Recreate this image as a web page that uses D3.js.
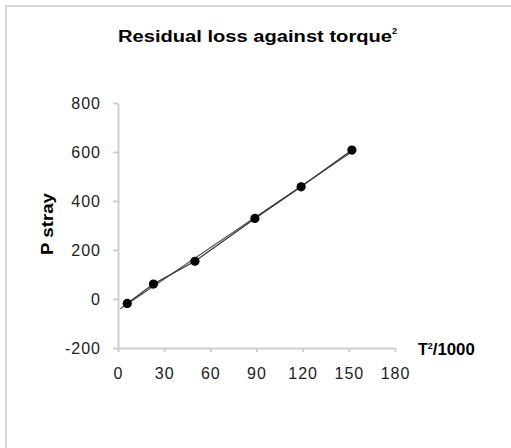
<!DOCTYPE html>
<html>
<head>
<meta charset="utf-8">
<script src="https://cdn.jsdelivr.net/npm/d3@7"></script>
<style>
  body { margin: 0; background: #fff; }
  text { font-family: "Liberation Sans", Arial, sans-serif; fill: #000; }
  .axis path, .axis line { stroke: #cfcfcf; stroke-width: 2; }
  .axis text { font-size: 16px; fill: #222; letter-spacing: 1px; }
</style>
</head>
<body>
<svg id="chart" width="511" height="448"></svg>
<script>
// data
const torqueSq = [6, 23, 50, 89, 119, 152]
const pStray = [-18, 61, 154, 329, 458, 608]
const xTicks = [0, 30, 60, 90, 120, 150, 180]
const yTicks = [-200, 0, 200, 400, 600, 800]

const svg = d3.select('#chart')

// outer frame (only top/left edges show)
svg.append('rect')
  .attr('x', 6).attr('y', 6)
  .attr('width', 600).attr('height', 600)
  .attr('fill', 'none')
  .attr('stroke', '#d8d8d8')
  .attr('stroke-width', 2)

const x = d3.scaleLinear().domain([0, 180]).range([118, 395])
const y = d3.scaleLinear().domain([-200, 800]).range([348, 103])

svg.append('g').classed('axis', true)
  .attr('transform', `translate(0,${y(-200)})`)
  .call(d3.axisBottom(x).tickValues(xTicks).tickFormat(d => String(d))
    .tickSize(4).tickSizeOuter(0).tickPadding(16))

svg.append('g').classed('axis', true)
  .attr('transform', `translate(${x(0)},0)`)
  .call(d3.axisLeft(y).tickValues(yTicks).tickFormat(d => String(d))
    .tickSize(5).tickSizeOuter(0).tickPadding(12))

// least-squares trend line
const n = torqueSq.length
const mx = d3.mean(torqueSq), my = d3.mean(pStray)
const slope = d3.sum(torqueSq, (v, i) => (v - mx) * (pStray[i] - my)) / d3.sum(torqueSq, v => (v - mx) * (v - mx))
const icpt = my - slope * mx
const trendX = [1.5, torqueSq[n - 1]]

svg.append('path')
  .datum(trendX)
  .attr('fill', 'none')
  .attr('stroke', '#555')
  .attr('stroke-width', 1.2)
  .attr('d', d3.line().x(d => x(d)).y(d => y(icpt + slope * d)))

svg.append('path')
  .datum(torqueSq.map((v, i) => [v, pStray[i]]))
  .attr('fill', 'none')
  .attr('stroke', '#333')
  .attr('stroke-width', 1.2)
  .attr('d', d3.line().x(d => x(d[0])).y(d => y(d[1])))

svg.selectAll('.pt')
  .data(torqueSq)
  .enter().append('circle')
  .attr('class', 'pt')
  .attr('cx', d => x(d))
  .attr('cy', (d, i) => y(pStray[i]))
  .attr('r', 4.6)
  .attr('fill', '#000')

// title
const title = svg.append('text')
  .attr('x', 118).attr('y', 42)
  .style('font-size', '16px').style('font-weight', 'bold')
title.append('tspan').attr('textLength', 274).attr('lengthAdjust', 'spacingAndGlyphs')
  .text('Residual loss against torque')
title.append('tspan').attr('dy', -8).style('font-size', '9px').text('2')

// axis titles
svg.append('text')
  .attr('transform', 'translate(53,224) rotate(-90)')
  .attr('text-anchor', 'middle')
  .style('font-size', '16px').style('font-weight', 'bold')
  .attr('textLength', 62).attr('lengthAdjust', 'spacingAndGlyphs')
  .text('P stray')

const xl = svg.append('text')
  .attr('x', 418).attr('y', 355)
  .style('font-size', '16px').style('font-weight', 'bold')
xl.append('tspan').text('T')
xl.append('tspan').attr('dy', -6).style('font-size', '9px').text('2')
xl.append('tspan').attr('dy', 6).attr('textLength', 42).attr('lengthAdjust', 'spacingAndGlyphs').text('/1000')
</script>
</body>
</html>
